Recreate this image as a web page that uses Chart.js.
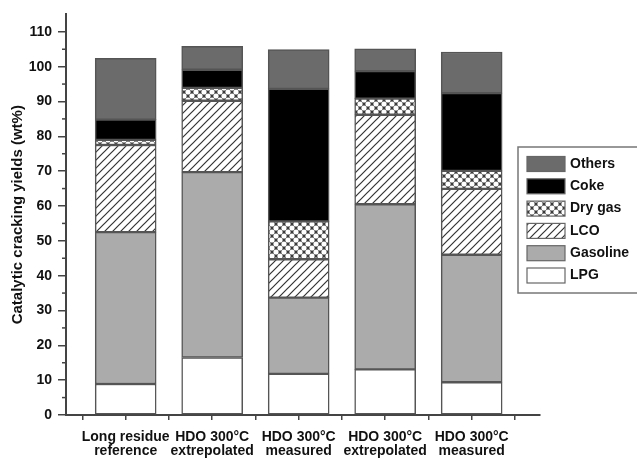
<!DOCTYPE html>
<html>
<head>
<meta charset="utf-8">
<script src="https://cdn.jsdelivr.net/npm/chart.js@4/dist/chart.umd.min.js"></script>
<style>
  html, body { margin: 0; padding: 0; background: #ffffff; }
  #wrap { width: 637px; height: 459px; position: relative; }
</style>
</head>
<body>
<div id="wrap"><canvas id="c" width="637" height="459"></canvas></div>
<script>
// ---- data ----
const categories = [
  ["Long residue", "reference"],
  ["HDO 300°C", "extrepolated"],
  ["HDO 300°C", "measured"],
  ["HDO 300°C", "extrepolated"],
  ["HDO 300°C", "measured"]
];
const seriesNames = ["LPG", "Gasoline", "LCO", "Dry gas", "Coke", "Others"];
const lpg      = [8.9, 16.5, 11.8, 13.1, 9.4];
const gasoline = [43.6, 53.2, 21.9, 47.4, 36.6];
const lco      = [25.0, 20.5, 11.0, 25.7, 18.9];
const dryGas   = [1.5, 3.7, 10.9, 4.6, 5.2];
const coke     = [5.8, 5.2, 38.0, 7.9, 22.3];
const others   = [17.6, 6.7, 11.3, 6.4, 11.8];
const yTickValues = [0, 10, 20, 30, 40, 50, 60, 70, 80, 90, 100, 110];

// ---- patterns ----
function hatchPattern() {
  const s = 8;
  const cv = document.createElement('canvas'); cv.width = s; cv.height = s;
  const g = cv.getContext('2d');
  g.fillStyle = '#ffffff'; g.fillRect(0, 0, s, s);
  g.strokeStyle = '#333333'; g.lineWidth = 1.2;
  g.beginPath();
  g.moveTo(0, s); g.lineTo(s, 0);
  g.moveTo(-s/2, s/2); g.lineTo(s/2, -s/2);
  g.moveTo(s/2, s + s/2); g.lineTo(s + s/2, s/2);
  g.stroke();
  return g.createPattern(cv, 'repeat');
}
function crossPattern() {
  const s = 8;
  const cv = document.createElement('canvas'); cv.width = s; cv.height = s;
  const g = cv.getContext('2d');
  g.fillStyle = '#3a3a3a'; g.fillRect(0, 0, s, s);
  g.fillStyle = '#ffffff';
  const pts = [[0,0],[s,0],[0,s],[s,s],[s/2,s/2]];
  pts.forEach(p => { g.beginPath(); g.arc(p[0], p[1], 2.6, 0, Math.PI*2); g.fill(); });
  return g.createPattern(cv, 'repeat');
}
const fills = ['#ffffff', '#ababab', hatchPattern(), crossPattern(), '#000000', '#6b6b6b'];
const seriesData = [lpg, gasoline, lco, dryGas, coke, others];

const datasets = seriesNames.map((name, k) => ({
  label: name,
  data: seriesData[k].map((v, i) => ({ x: i, y: v })),
  backgroundColor: fills[k],
  borderColor: '#555555',
  borderWidth: 1.5,
  barThickness: 61,
  borderSkipped: false
}));

const FONT = "'Liberation Sans', Arial, sans-serif";

// minor y ticks (every 5) drawn short, major via grid
const minorTicks = {
  id: 'minorTicks',
  afterDraw(chart) {
    const y = chart.scales.y;
    const ctx = chart.ctx;
    const x0 = chart.chartArea.left;
    ctx.save();
    ctx.strokeStyle = '#444444'; ctx.lineWidth = 1.5;
    for (let v = 5; v <= 105; v += 10) {
      const p = y.getPixelForValue(v);
      ctx.beginPath(); ctx.moveTo(x0 - 4, p); ctx.lineTo(x0, p); ctx.stroke();
    }
    ctx.restore();
  }
};

// boxed legend, top-down in reverse series order
const boxLegend = {
  id: 'boxLegend',
  afterDraw(chart) {
    const ctx = chart.ctx;
    const bx = 518, by = 147, bw = 130, bh = 146;
    ctx.save();
    ctx.fillStyle = '#ffffff';
    ctx.fillRect(bx, by, bw, bh);
    ctx.strokeStyle = '#777777'; ctx.lineWidth = 1.5;
    ctx.strokeRect(bx, by, bw, bh);
    const ds = chart.data.datasets.slice().reverse();
    ds.forEach((d, i) => {
      const cy = 164 + i * 22.3;
      ctx.fillStyle = d.backgroundColor;
      ctx.fillRect(527, cy - 7.5, 38, 15);
      ctx.strokeStyle = '#666666'; ctx.lineWidth = 1.2;
      ctx.strokeRect(527, cy - 7.5, 38, 15);
      ctx.fillStyle = '#111111';
      ctx.font = "bold 14px " + FONT;
      ctx.textBaseline = 'middle';
      ctx.textAlign = 'left';
      ctx.fillText(d.label, 570, cy);
    });
    ctx.restore();
  }
};

new Chart(document.getElementById('c'), {
  type: 'bar',
  data: { datasets },
  plugins: [minorTicks, boxLegend],
  options: {
    responsive: false,
    animation: false,
    devicePixelRatio: 1,
    layout: { padding: { left: 0, right: 97, top: 14, bottom: 0 } },
    plugins: { legend: { display: false }, tooltip: { enabled: false } },
    scales: {
      x: {
        type: 'linear',
        stacked: true,
        offset: false,
        min: -0.69,
        max: 4.79,
        afterBuildTicks(scale) {
          const t = [];
          for (let v = -0.5; v <= 4.5; v += 0.5) t.push({ value: v });
          scale.ticks = t;
        },
        afterFit(scale) { scale.height = 44; },
        border: { display: true, color: '#444444', width: 2 },
        grid: { display: true, offset: false, drawOnChartArea: false, drawTicks: true, tickLength: 5, color: '#444444', lineWidth: 1.5 },
        ticks: {
          autoSkip: false,
          maxRotation: 0,
          padding: 10,
          color: '#111111',
          font: { family: FONT, size: 14, weight: 'bold', lineHeight: 1.0 },
          callback(v) {
            return Number.isInteger(v) && categories[v] ? categories[v] : '';
          }
        }
      },
      y: {
        stacked: true,
        min: 0,
        max: 115,
        afterBuildTicks(scale) {
          scale.ticks = yTickValues.map(v => ({ value: v }));
        },
        afterFit(scale) { scale.width = 66; },
        border: { display: true, color: '#444444', width: 2 },
        grid: { display: true, drawOnChartArea: false, drawTicks: true, tickLength: 8, color: '#444444', lineWidth: 1.5 },
        ticks: {
          padding: 6,
          color: '#111111',
          font: { family: FONT, size: 14, weight: 'bold' }
        },
        title: {
          display: true,
          text: 'Catalytic cracking yields (wt%)',
          color: '#111111',
          font: { family: FONT, size: 15, weight: 'bold' },
          padding: { top: 9, bottom: 0 }
        }
      }
    }
  }
});
</script>
</body>
</html>
